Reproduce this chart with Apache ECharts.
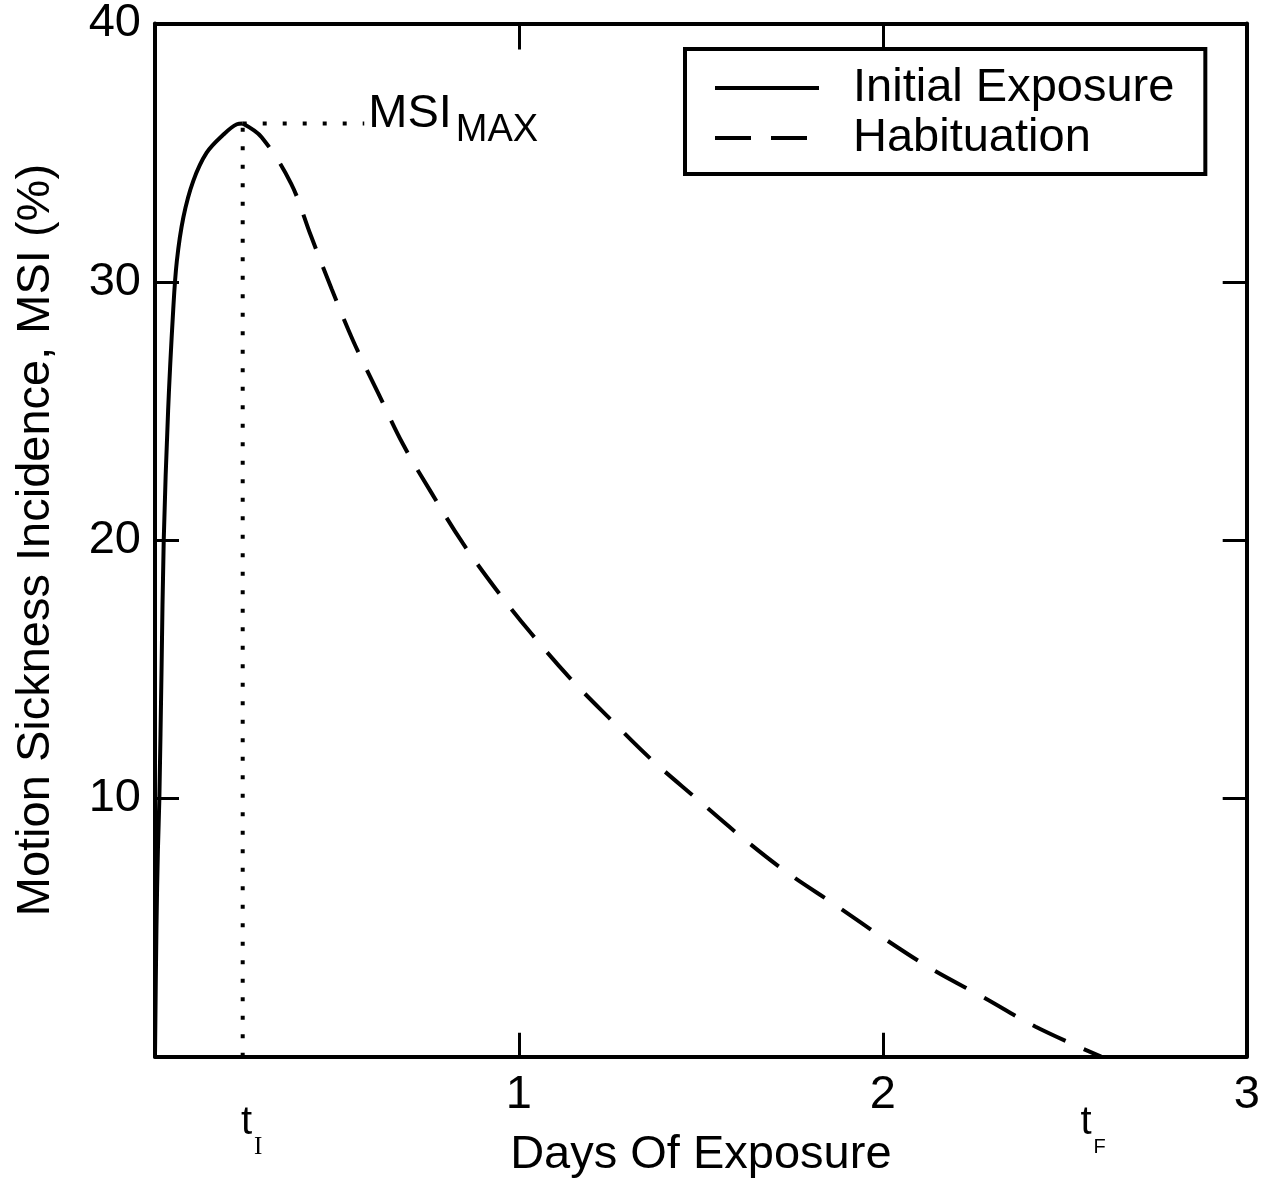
<!DOCTYPE html>
<html><head><meta charset="utf-8">
<script src="https://cdn.jsdelivr.net/npm/echarts@6/dist/echarts.min.js"></script>
<style>html,body{margin:0;padding:0;background:#fff}#c{width:1274px;height:1188px}</style>
</head><body><div id="c"></div>
<script>
const FONT = '"Liberation Sans", Arial, Helvetica, sans-serif';
const SERIF = '"Liberation Serif", "Times New Roman", serif';

// Axis ranges / ticks
const xRange = [0, 3];
const xStep = 1;
const yRange = [0, 40];
const yStep = 10;

// Series names
const seriesNames = ['Initial Exposure', 'Habituation'];

// Initial exposure (solid)
const initialX = [0, 0.004, 0.008, 0.012, 0.018, 0.024, 0.036, 0.05, 0.06, 0.078, 0.105, 0.142, 0.188, 0.225, 0.241];
const initialY = [0, 5, 8, 10, 15, 20, 25, 28.9, 30.8, 32.5, 33.9, 35.0, 35.7, 36.1, 36.13];

// Habituation (dashed)
const habX = [0.241, 0.293, 0.374, 0.428, 0.486, 0.545, 0.613, 0.682, 0.761, 0.845, 0.937, 1.033, 1.141, 1.251, 1.363, 1.485, 1.608, 1.734, 1.87, 2.0, 2.135, 2.278, 2.42, 2.6];
const habY = [36.13, 35.6, 33.8, 31.8, 29.7, 27.7, 25.7, 23.7, 21.8, 19.9, 18.1, 16.4, 14.65, 13.07, 11.52, 10.03, 8.55, 7.16, 5.87, 4.61, 3.39, 2.29, 1.16, 0];

// Annotations
const tI = 0.241;
const tF = 2.6;
const msiMax = 36.13;
const msiLabelX = 0.575;

const zip = (a, b) => a.map((v, i) => [v, b[i]]);

const axisLineStyle = { color: '#000', width: 4 };
const tickStyle = { color: '#000', width: 3 };

const chart = echarts.init(document.getElementById('c'), null, { renderer: 'canvas' });
chart.setOption({
  animation: false,
  backgroundColor: '#fff',
  textStyle: { fontFamily: FONT, color: '#000' },
  grid: { left: 155, right: 27.3, top: 23.3, bottom: 131.3, containLabel: false },
  legend: {
    data: seriesNames,
    orient: 'vertical',
    left: 685,
    top: 49,
    padding: [14, 31, 11, 28],
    borderColor: '#000',
    borderWidth: 4,
    backgroundColor: '#fff',
    itemWidth: 104,
    itemHeight: 26,
    itemGap: 0,
    itemStyle: { opacity: 0 },
    lineStyle: { width: 4, color: '#000' },
    textStyle: { fontFamily: FONT, fontSize: 47, color: '#000', lineHeight: 50, padding: [0, 0, 0, 29] },
    selectedMode: false
  },
  xAxis: [
    {
      type: 'value', position: 'bottom', min: xRange[0], max: xRange[1], interval: xStep,
      axisLine: { onZero: false, lineStyle: axisLineStyle },
      axisTick: { inside: true, length: 24, lineStyle: tickStyle },
      axisLabel: { fontFamily: FONT, fontSize: 47, color: '#000', margin: 15,
        formatter: v => (v === 0 ? '' : String(v)) },
      splitLine: { show: false },
      name: 'Days Of Exposure', nameLocation: 'middle', nameGap: 75,
      nameTextStyle: { fontFamily: FONT, fontSize: 47, color: '#000' }
    },
    {
      type: 'value', position: 'top', min: xRange[0], max: xRange[1], interval: xStep,
      axisLine: { onZero: false, lineStyle: axisLineStyle },
      axisTick: { inside: true, length: 26, lineStyle: tickStyle },
      axisLabel: { show: false },
      splitLine: { show: false }
    },
    {
      type: 'value', position: 'bottom', min: xRange[0], max: xRange[1],
      axisLine: { show: false },
      axisTick: { show: false },
      splitLine: { show: false },
      axisLabel: {
        customValues: [tI, tF],
        margin: 46,
        formatter: v => (Math.abs(v - tI) < 1e-6 ? '{g| }{t|t}{i|I}' : '{t|t}{f|F}{h| }'),
        rich: {
          t: { fontFamily: FONT, fontSize: 40, lineHeight: 40, color: '#000' },
          i: { fontFamily: SERIF, fontSize: 25, lineHeight: 24, color: '#000', padding: [50, 0, 0, 2] },
          f: { fontFamily: FONT, fontSize: 20, lineHeight: 24, color: '#000', padding: [50, 0, 0, 2] },
          g: { width: 18, fontSize: 10 },
          h: { width: 16, fontSize: 10 }
        }
      }
    }
  ],
  yAxis: [
    {
      type: 'value', position: 'left', min: yRange[0], max: yRange[1], interval: yStep,
      axisLine: { onZero: false, lineStyle: axisLineStyle },
      axisTick: { inside: true, length: 24, lineStyle: tickStyle },
      axisLabel: { fontFamily: FONT, fontSize: 47, color: '#000', margin: 14,
        formatter: v => (v === 0 ? '' : String(v)) },
      splitLine: { show: false },
      name: 'Motion Sickness Incidence, MSI (%)', nameLocation: 'middle', nameGap: 95,
      nameTextStyle: { fontFamily: FONT, fontSize: 47, color: '#000' }
    },
    {
      type: 'value', position: 'right', min: yRange[0], max: yRange[1], interval: yStep,
      axisLine: { onZero: false, lineStyle: axisLineStyle },
      axisTick: { inside: true, length: 24, lineStyle: tickStyle },
      axisLabel: { show: false },
      splitLine: { show: false }
    }
  ],
  series: [
    {
      name: 'tI-line', type: 'line', xAxisIndex: 0, yAxisIndex: 0,
      data: [[tI, 0], [tI, msiMax]],
      symbol: 'none', silent: true, z: 1,
      lineStyle: { color: '#000', width: 4, type: [4, 14.5] }
    },
    {
      name: 'msi-line', type: 'line', xAxisIndex: 0, yAxisIndex: 0,
      data: [[tI, msiMax], [msiLabelX, msiMax]],
      symbol: 'none', silent: true, z: 1,
      lineStyle: { color: '#000', width: 4, type: [4, 16] },
      endLabel: {
        show: true, distance: 4,
        formatter: () => '{m|MSI}{s|MAX}',
        rich: {
          m: { fontFamily: FONT, fontSize: 47, lineHeight: 46, color: '#000', padding: [0, 0, 18, 0] },
          s: { fontFamily: FONT, fontSize: 38, lineHeight: 37, color: '#000', padding: [15, 0, 0, 4] }
        }
      }
    },
    {
      name: seriesNames[0], type: 'line', xAxisIndex: 0, yAxisIndex: 0,
      data: zip(initialX, initialY),
      symbol: 'none', smooth: 0.35, z: 3,
      lineStyle: { color: '#000', width: 4, type: 'solid' },
      itemStyle: { color: '#000' }
    },
    {
      name: seriesNames[1], type: 'line', xAxisIndex: 0, yAxisIndex: 0,
      data: zip(habX, habY),
      symbol: 'none', smooth: 0.35, z: 3,
      lineStyle: { color: '#000', width: 4, type: [36, 20] },
      itemStyle: { color: '#000' }
    }
  ]
});
</script>
</body></html>
